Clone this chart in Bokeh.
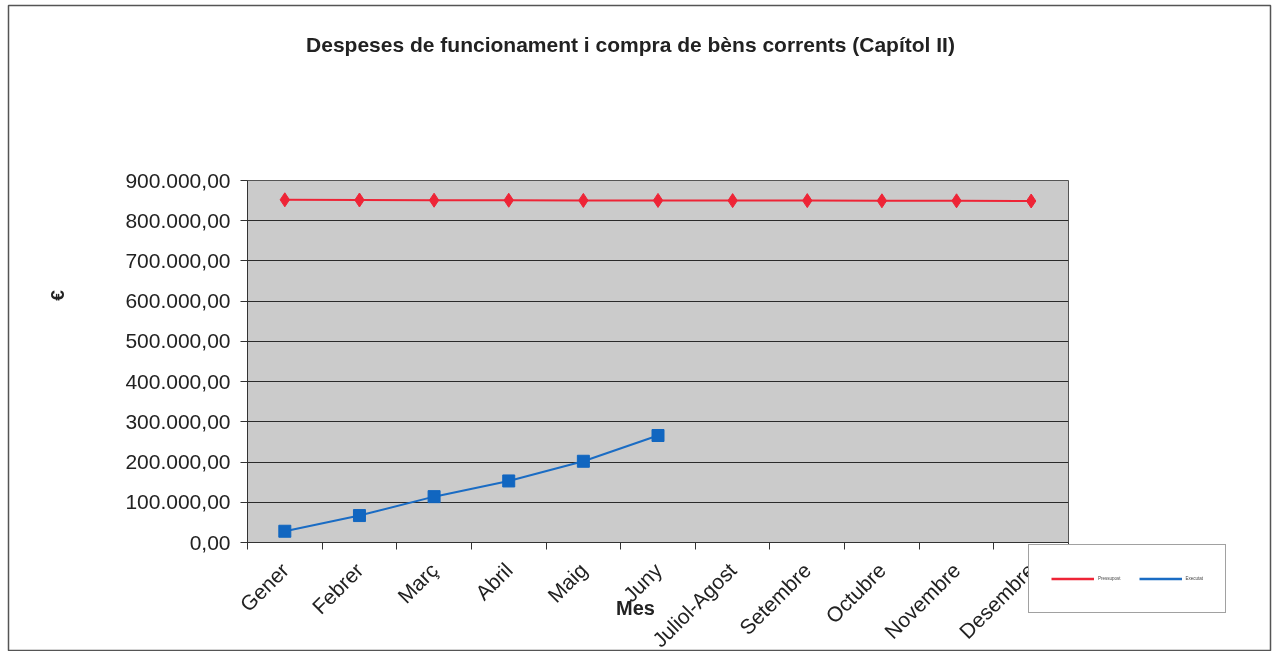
from bokeh.plotting import figure
from bokeh.models import (Range1d, FixedTicker, Label, Legend, LegendItem, ColumnDataSource)
from bokeh.embed import file_html
from bokeh.resources import INLINE
from math import pi

months = ["Gener", "Febrer", "Març", "Abril", "Maig", "Juny", "Juliol-Agost",
          "Setembre", "Octubre", "Novembre", "Desembre"]
pressupost = [852000, 851500, 851000, 851000, 850500, 850500, 850000, 850000, 849500, 849500, 849000]
executat = [28000, 67000, 114000, 153000, 202000, 266000]
y_ticks = [0, 100000, 200000, 300000, 400000, 500000, 600000, 700000, 800000, 900000]
y_tick_labels = ["0,00", "100.000,00", "200.000,00", "300.000,00", "400.000,00",
                 "500.000,00", "600.000,00", "700.000,00", "800.000,00", "900.000,00"]
title_text = "Despeses de funcionament i compra de bèns corrents (Capítol II)"
x_title = "Mes"
y_title = "€"
legend_labels = ["Pressupost", "Executat"]

FONT = "Liberation Sans"
W, H = 1272, 651
PH = 662  # main canvas; its empty bottom strip lies below the window edge
RED = "#ee2436"
BLUE = "#1a6cc4"

p = figure(width=W, height=PH, output_backend="svg", toolbar_location=None,
           x_range=Range1d(0, len(months)), y_range=Range1d(0, 900000),
           min_border_left=247, min_border_right=204, min_border_top=180,
           min_border_bottom=120)
p.styles = {"position": "fixed", "left": "0px", "top": "0px"}
p.background_fill_color = "#cbcbcb"
p.border_fill_color = "white"
p.outline_line_color = "#555555"
p.outline_line_width = 1

# grid
p.xgrid.grid_line_color = None
p.ygrid.grid_line_color = "#2a2a2a"
p.ygrid.grid_line_width = 1
p.ygrid.ticker = FixedTicker(ticks=y_ticks)

# y axis
p.yaxis.ticker = FixedTicker(ticks=y_ticks)
p.yaxis.major_label_overrides = {t: l for t, l in zip(y_ticks, y_tick_labels)}
p.yaxis.major_label_text_font = FONT
p.yaxis.major_label_text_font_size = "21px"
p.yaxis.major_label_text_color = "#222222"
p.yaxis.major_tick_in = 0
p.yaxis.major_tick_out = 7
p.yaxis.minor_tick_line_color = None
p.yaxis.axis_line_color = "#333333"
p.yaxis.major_tick_line_color = "#333333"
p.yaxis.major_label_standoff = 10

# x axis: labels at category centres, ticks between categories
centers = [i + 0.5 for i in range(len(months))]
p.xaxis.ticker = FixedTicker(ticks=centers, minor_ticks=list(range(len(months) + 1)))
p.xaxis.major_label_overrides = {c: m for c, m in zip(centers, months)}
p.xaxis.major_label_orientation = pi / 4
p.xaxis.major_label_text_font = FONT
p.xaxis.major_label_text_font_size = "21px"
p.xaxis.major_label_text_color = "#222222"
p.xaxis.major_tick_line_color = None
p.xaxis.major_tick_out = 0
p.xaxis.minor_tick_in = 0
p.xaxis.minor_tick_out = 7
p.xaxis.minor_tick_line_color = "#333333"
p.xaxis.axis_line_color = "#333333"
p.xaxis.major_label_standoff = 17

src_r = ColumnDataSource(dict(x=centers, y=pressupost))
src_b = ColumnDataSource(dict(x=centers[:len(executat)], y=executat))

p.line("x", "y", source=src_r, line_color=RED, line_width=2)
p.scatter("x", "y", source=src_r, marker="diamond", size=14, fill_color=RED,
          line_color=RED)
p.line("x", "y", source=src_b, line_color=BLUE, line_width=2)
p.scatter("x", "y", source=src_b, marker="square", size=12, fill_color="#1166c0",
          line_color="#1166c0")

# transparent overlay figure for the chart border, the texts and the legend
q = figure(width=W, height=H, output_backend="svg", toolbar_location=None,
           x_axis_type=None, y_axis_type=None,
           min_border_left=8, min_border_top=5, min_border_right=2, min_border_bottom=0,
           x_range=Range1d(0, 1), y_range=Range1d(-2, -1))
q.styles = {"position": "fixed", "left": "0px", "top": "0px"}
q.background_fill_alpha = 0
q.border_fill_alpha = 0
q.outline_line_color = "#555555"
q.outline_line_width = 1.5
q.grid.grid_line_color = None

# legend entries reuse the series (drawn outside this overlay's visible range)
lr = q.line("x", "y", source=src_r, line_color=RED, line_width=2.5)
lb = q.line("x", "y", source=src_b, line_color=BLUE, line_width=2.5)
legend = Legend(items=[LegendItem(label=legend_labels[0], renderers=[lr]),
                       LegendItem(label=legend_labels[1], renderers=[lb])],
                orientation="horizontal", location=(1020, 38),
                label_text_font=FONT, label_text_font_size="4.5px",
                label_text_color="#444444",
                glyph_width=43, glyph_height=23, label_standoff=4, spacing=18,
                label_width=0, padding=22, margin=0,
                border_line_color="#444444", border_line_width=1,
                background_fill_color="white", background_fill_alpha=1)
q.add_layout(legend, "center")

q.add_layout(Label(x=622, y=H - 44, x_units="screen", y_units="screen",
                   text=title_text, text_font=FONT, text_font_style="bold",
                   text_font_size="21px", text_align="center",
                   text_baseline="middle", text_color="#222222"))
q.add_layout(Label(x=627, y=H - 607, x_units="screen", y_units="screen",
                   text=x_title, text_font=FONT, text_font_style="bold",
                   text_font_size="20px", text_align="center",
                   text_baseline="middle", text_color="#222222"))
q.add_layout(Label(x=49, y=H - 295, x_units="screen", y_units="screen",
                   text=y_title, text_font=FONT, text_font_style="bold",
                   text_font_size="19px", text_align="center", angle=pi / 2,
                   text_baseline="middle", text_color="#222222"))

open("out.html", "w").write(file_html([p, q], INLINE))
